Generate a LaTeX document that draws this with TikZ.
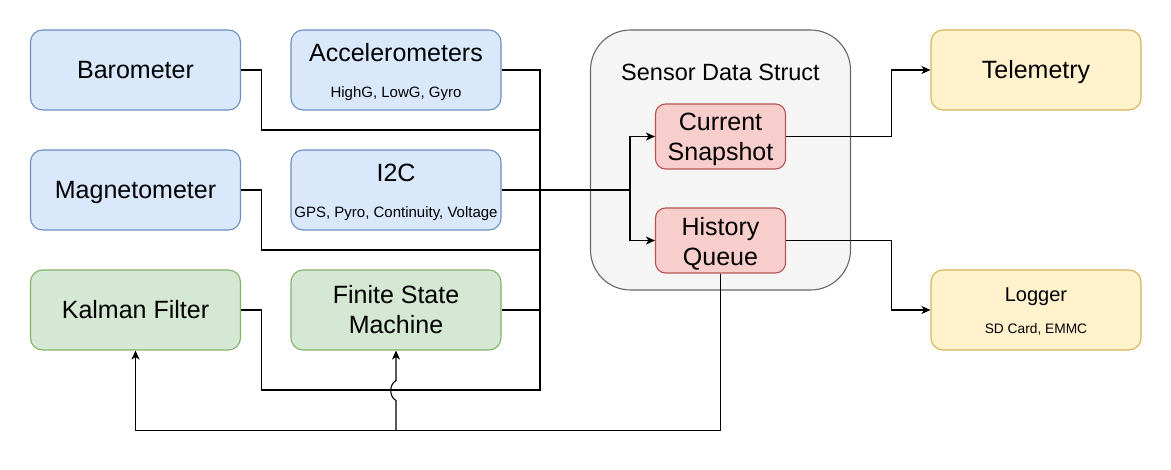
\documentclass[tikz,border=0pt]{standalone}
\usepackage{fontspec}
\setmainfont{Liberation Sans}
\usepackage{xcolor}
\usetikzlibrary{arrows.meta}
\definecolor{bluefill}{HTML}{DAE8FC}
\definecolor{bluedraw}{HTML}{6C8EBF}
\definecolor{greenfill}{HTML}{D5E8D4}
\definecolor{greendraw}{HTML}{82B366}
\definecolor{redfill}{HTML}{F8CECC}
\definecolor{reddraw}{HTML}{B85450}
\definecolor{yellowfill}{HTML}{FFF2CC}
\definecolor{yellowdraw}{HTML}{D6B656}
\definecolor{grayfill}{HTML}{F5F5F5}
\definecolor{graydraw}{HTML}{666666}

\begin{document}
\begin{tikzpicture}[x=1pt,y=-1pt,line width=1.1pt,
  >={Stealth[length=9pt,width=8pt,inset=2.5pt]},
  box/.style={draw,rounded corners=12pt,minimum width=210pt,minimum height=80pt,
    inner sep=0pt,align=center,font=\fontsize{25}{30}\selectfont},
  onel/.style={text height=18pt,text depth=0pt},
  bluebox/.style={box,fill=bluefill,draw=bluedraw},
  greenbox/.style={box,fill=greenfill,draw=greendraw},
  yellowbox/.style={box,fill=yellowfill,draw=yellowdraw},
  redbox/.style={box,fill=redfill,draw=reddraw,rounded corners=10pt,
    minimum width=130pt,minimum height=65pt},
  structbox/.style={draw=graydraw,fill=grayfill,rounded corners=40pt,
    minimum width=260pt,minimum height=260pt},
  title/.style={anchor=base,inner sep=0pt,font=\fontsize{25}{30}\selectfont},
  sub/.style={anchor=base,inner sep=0pt,font=\fontsize{15}{18}\selectfont},
  twoline/.style={inner sep=0pt,align=center,font=\fontsize{25}{30}\selectfont}]
  \useasboundingbox (0,0) rectangle (1171,470);

  \node (baro) [bluebox,onel] at (135.5,70) {Barometer};
  \node (acc) [bluebox] at (396,70) {};
  \node (mag) [bluebox,onel] at (135.5,190) {Magnetometer};
  \node (i2c) [bluebox] at (396,190) {};
  \node (kal) [greenbox,onel] at (135.5,310) {Kalman Filter};
  \node (fsm) [greenbox] at (396,310) {Finite State\\Machine};
  \node (sds) [structbox] at (720.5,160) {};
  \node (curr) [redbox] at (720.5,136.5) {};
  \node (hist) [redbox] at (720.5,240.5) {};
  \node (tele) [yellowbox,onel] at (1036,70) {Telemetry};
  \node (log) [yellowbox] at (1036,310) {};

  \path (acc.center) +(0,-8) node (acct) [title] {Accelerometers};
  \path (acc.center) +(0,27.5) node (accs) [sub] {HighG, LowG, Gyro};
  \path (i2c.center) +(0,-8) node (i2ct) [title] {I2C};
  \path (i2c.center) +(0,27.5) node (i2cs) [sub] {GPS, Pyro, Continuity, Voltage};
  \path (sds.north) +(0,51) node (sdst) [title,font=\fontsize{23.5}{28}\selectfont] {Sensor Data Struct};
  \path (curr.center) +(0,3) node (currt) [twoline] {Current\\Snapshot};
  \path (hist.center) +(0,3) node (histt) [twoline] {History\\Queue};
  \path (log.center) +(0,-8) node (logt) [title,font=\fontsize{20}{24}\selectfont] {Logger};
  \path (log.center) +(0,24) node (logs) [sub,font=\fontsize{13.75}{16.5}\selectfont] {SD Card, EMMC};

  \coordinate (bus) at (540,190);
  \coordinate (split) at (630,190);
  \draw (acc.east) -| (bus);
  \draw (baro.east) -- ++(20,0) |- (540,130);
  \draw (mag.east) -- ++(20,0) |- (540,250);
  \draw (kal.east) -- ++(20,0) |- (540,390) -- (bus);
  \draw (fsm.east) -- (fsm.east -| bus);
  \draw (i2c.east) -- (split);
  \draw[->] (split) |- (curr.west);
  \draw[->] (split) |- (hist.west);

  \draw[->] (curr.east) -- ++(105,0) |- (tele.west);
  \draw[->] (hist.east) -- ++(105,0) |- (log.west);

  \draw[->] (hist.south) -- ++(0,157) coordinate (fb) -| (kal.south);
  \draw[->] (fb -| fsm.south) -- ++(0,-30)
    .. controls +(-7,-4) and +(-7,4) .. ++(0,-20) -- (fsm.south);
\end{tikzpicture}
\end{document}
